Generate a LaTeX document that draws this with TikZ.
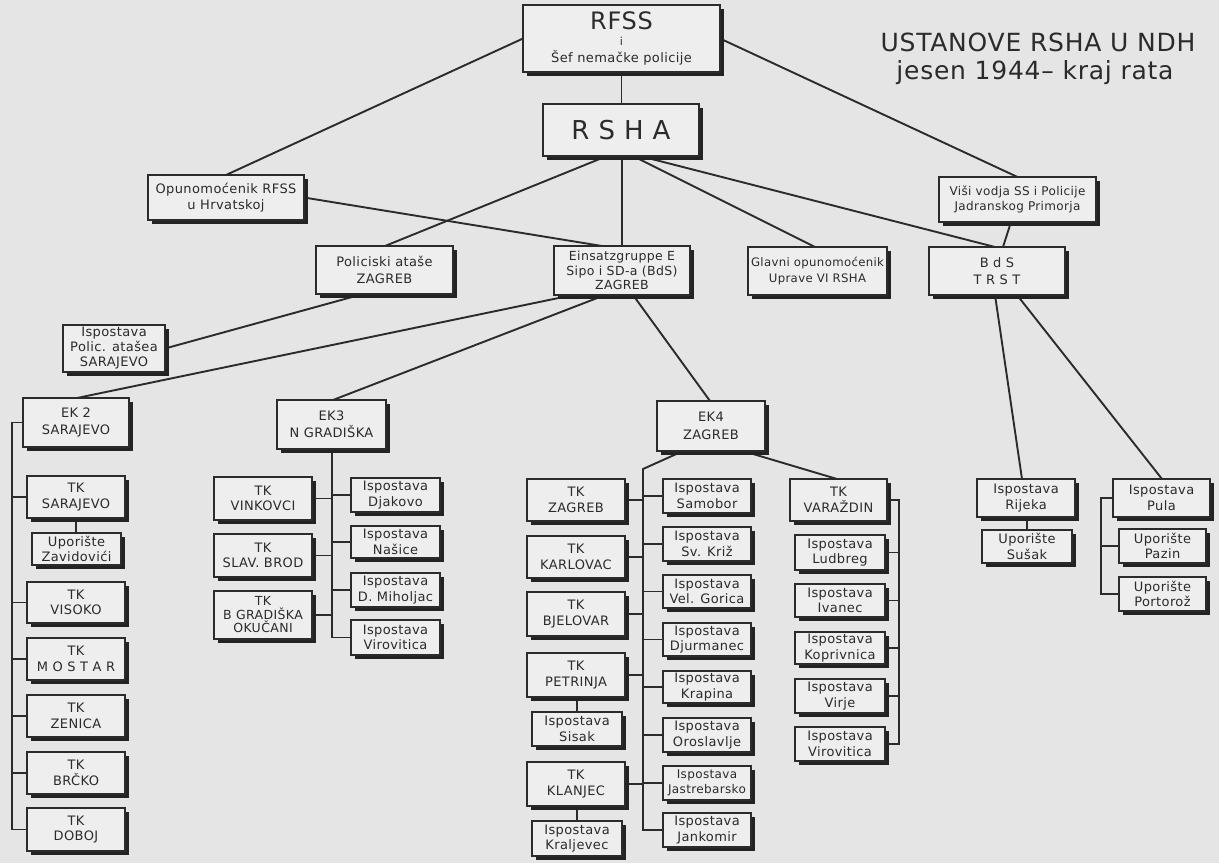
\documentclass[tikz,border=0pt]{standalone}
\usepackage{fontspec}
\setmainfont{DejaVu Sans}[LetterSpace=3]
\usetikzlibrary{shadows,calc}
\definecolor{paper}{gray}{0.90}
\definecolor{boxfill}{gray}{0.935}
\definecolor{ink}{gray}{0.17}
\pgfdeclarelayer{paperlayer}
\pgfdeclarelayer{linelayer}
\pgfsetlayers{paperlayer,linelayer,main}
\tikzset{
  box/.style={draw=ink, fill=boxfill, line width=1.4pt, align=center, inner sep=1pt, outer sep=0pt,
    font=\fontsize{13}{15.5}\selectfont, text=ink,
    general shadow={fill=ink!80!black, shadow xshift=4pt, shadow yshift=-4pt}},
  conn/.style={draw=ink, line width=1.9pt},
  titletext/.style={font=\fontsize{25}{28}\selectfont, text=ink, inner sep=0pt}
}
\newcommand\bx[7][]{\node[box,#1,minimum width={(#5-#3)*1pt},minimum height={(#6-#4)*1pt}] (#2) at ({(#3+#5)/2},{(#4+#6)/2}) {#7};}
\begin{document}
\begin{tikzpicture}[x=1pt,y=-1pt]
\begin{pgfonlayer}{paperlayer}
\fill[paper] (0,0) rectangle (1219,863);
\end{pgfonlayer}
\useasboundingbox (0,0) rectangle (1219,863);

% title
\node[titletext] (t1) at (1038,42) {USTANOVE RSHA U NDH};
\node[titletext] (t2) at (1035,73) {jesen 1944– kraj rata};

% top
\bx{rfss}{523}{5}{720}{72}{{\fontsize{24}{24}\selectfont RFSS}\\{\fontsize{11}{11}\selectfont i}\\[2pt]{\fontsize{13}{15}\selectfont Šef nemačke policije}}
\bx{rsha}{543}{104}{699}{156}{\fontsize{26}{26}\selectfont R S H A}
\bx{opun}{148}{175}{304}{220}{Opunomoćenik RFSS\\u Hrvatskoj}
\bx[font=\fontsize{12}{15}\selectfont]{visi}{939}{177}{1096}{222}{Viši vodja SS i Policije\\Jadranskog Primorja}
\bx{polic}{316}{246}{453}{294}{Policiski ataše\\[2pt]ZAGREB}
\bx[font=\fontsize{12.5}{14.5}\selectfont]{ein}{554}{246}{690}{295}{Einsatzgruppe E\\Sipo i SD-a (BdS)\\ZAGREB}
\bx[font=\fontsize{11.7}{16}\selectfont]{glavni}{748}{247}{887}{295}{Glavni opunomoćenik\\Uprave VI RSHA}
\bx{bds}{929}{247}{1065}{295}{B d S\\[2pt]T R S T}
\bx[font=\fontsize{13}{15}\selectfont]{ispsar}{63}{325}{165}{372}{Ispostava\\Polic. atašea\\SARAJEVO}
\bx{ek2}{23}{398}{129}{447}{EK 2\\[2pt]SARAJEVO}
\bx{ek3}{277}{400}{386}{449}{EK3\\[2pt]N GRADIŠKA}
\bx{ek4}{657}{401}{765}{451}{EK4\\[2pt]ZAGREB}

% EK2 column
\bx{tksar}{27}{476}{125}{518}{TK\\SARAJEVO}
\bx{zav}{32}{533}{121}{565}{Uporište\\Zavidovići}
\bx{tkvis}{27}{582}{125}{623}{TK\\VISOKO}
\bx{tkmos}{27}{638}{125}{680}{TK\\M O S T A R}
\bx{tkzen}{27}{695}{125}{737}{TK\\ZENICA}
\bx{tkbrc}{27}{752}{125}{794}{TK\\BRČKO}
\bx{tkdob}{27}{808}{125}{851}{TK\\DOBOJ}

% EK3 column
\bx{tkvin}{214}{477}{312}{520}{TK\\VINKOVCI}
\bx{tkslb}{214}{534}{312}{577}{TK\\SLAV. BROD}
\bx[font=\fontsize{12.5}{13.5}\selectfont]{tkbgr}{214}{591}{312}{639}{TK\\B GRADIŠKA\\OKUČANI}
\bx{djak}{351}{478}{440}{512}{Ispostava\\Djakovo}
\bx{nas}{351}{526}{440}{558}{Ispostava\\Našice}
\bx{dmih}{351}{573}{440}{607}{Ispostava\\D. Miholjac}
\bx{vir3}{351}{620}{440}{655}{Ispostava\\Virovitica}

% EK4 column
\bx{tkzag}{527}{479}{625}{521}{TK\\ZAGREB}
\bx{tkkar}{527}{536}{625}{578}{TK\\KARLOVAC}
\bx{tkbje}{527}{592}{625}{636}{TK\\BJELOVAR}
\bx{tkpet}{527}{653}{625}{697}{TK\\PETRINJA}
\bx{sisak}{532}{712}{622}{746}{Ispostava\\Sisak}
\bx{tkkla}{527}{762}{625}{806}{TK\\KLANJEC}
\bx{kralj}{532}{821}{622}{856}{Ispostava\\Kraljevec}
\bx{samobor}{663}{479}{751}{513}{Ispostava\\Samobor}
\bx{svkriz}{663}{527}{751}{561}{Ispostava\\Sv. Križ}
\bx{velgor}{663}{575}{751}{608}{Ispostava\\Vel. Gorica}
\bx{djur}{663}{623}{751}{656}{Ispostava\\Djurmanec}
\bx{krap}{663}{671}{751}{703}{Ispostava\\Krapina}
\bx{oros}{663}{718}{751}{752}{Ispostava\\Oroslavlje}
\bx[font=\fontsize{12}{15.5}\selectfont]{jastr}{663}{766}{751}{800}{Ispostava\\Jastrebarsko}
\bx{jank}{663}{813}{751}{847}{Ispostava\\Jankomir}

% Varazdin
\bx{tkvar}{790}{479}{887}{521}{TK\\VARAŽDIN}
\bx{ludb}{795}{535}{885}{570}{Ispostava\\Ludbreg}
\bx{ivan}{795}{584}{885}{617}{Ispostava\\Ivanec}
\bx{kopr}{795}{632}{885}{664}{Ispostava\\Koprivnica}
\bx{virje}{795}{679}{885}{713}{Ispostava\\Virje}
\bx{virov}{795}{727}{885}{761}{Ispostava\\Virovitica}

% Trst branch
\bx{rij}{977}{479}{1075}{517}{Ispostava\\Rijeka}
\bx{susak}{982}{530}{1072}{563}{Uporište\\Sušak}
\bx{pula}{1113}{479}{1210}{517}{Ispostava\\Pula}
\bx{pazin}{1119}{529}{1206}{563}{Uporište\\Pazin}
\bx{porto}{1119}{577}{1206}{611}{Uporište\\Portorož}

\begin{pgfonlayer}{linelayer}
\draw[conn] (rfss.south) -- (rsha.north -| rfss.south);
\draw[conn] (rfss.west) -- (opun.north);
\draw[conn] (rfss.east) -- (visi.north);
\draw[conn] (visi.south -| 1011,0) -- (bds.north -| 1003,0);
\draw[conn] (rsha.south -| 607,0) -- (polic.north -| 385,0);
\draw[conn] (rsha.south -| 622,0) -- (ein.north -| 622,0);
\draw[conn] (rsha.south -| 633,0) -- (glavni.north -| 815,0);
\draw[conn] (rsha.south -| 640,0) -- (bds.north -| 995,0);
\draw[conn] (opun.east) -- (ein.north -| 602,0);
\draw[conn] (polic.south -| 363,0) -- (ispsar.east);
\draw[conn] (ein.south -| 573,0) -- (ek2.north -| 77,0);
\draw[conn] (ein.south -| 605,0) -- (ek3.north -| 333,0);
\draw[conn] (ein.south -| 633,0) -- (ek4.north -| 710,0);
% EK2 tree
\draw[conn] (ek2.west) -- (ek2.west -| 12,0) |- (tkdob.west);
\foreach \n in {tksar,tkvis,tkmos,tkzen,tkbrc} \draw[conn] (\n.west) -- (\n.west -| 12,0);
\draw[conn] (tksar.south -| 76,0) -- (zav.north -| 76,0);
% EK3 tree
\draw[conn] (ek3.south -| 332,0) |- (vir3.west);
\foreach \n in {tkvin,tkslb,tkbgr} \draw[conn] (\n.east) -- (\n.east -| 332,0);
\foreach \n in {djak,nas,dmih} \draw[conn] (\n.west) -- (\n.west -| 332,0);
% EK4 tree
\coordinate (ek4bus) at (643,469);
\draw[conn] (ek4.south -| 683,0) -- (ek4bus) |- (jank.west);
\foreach \n in {tkzag,tkkar,tkbje,tkpet,tkkla} \draw[conn] (\n.east) -- (\n.east -| 643,0);
\foreach \n in {samobor,svkriz,velgor,djur,krap,oros,jastr} \draw[conn] (\n.west) -- (\n.west -| 643,0);
\draw[conn] (tkpet.south -| 577,0) -- (sisak.north -| 577,0);
\draw[conn] (tkkla.south -| 577,0) -- (kralj.north -| 577,0);
\draw[conn] (ek4.south -| 743,0) -- (tkvar.north -| 837,0);
\draw[conn] (tkvar.east) -- (tkvar.east -| 899,0) |- (virov.east);
\foreach \n in {ludb,ivan,kopr,virje} \draw[conn] (\n.east) -- (\n.east -| 899,0);
% Trst tree
\draw[conn] (bds.south -| 995,0) -- (rij.north -| 1022,0);
\draw[conn] (bds.south -| 1017,0) -- (pula.north -| 1162,0);
\draw[conn] (rij.south -| 1027,0) -- (susak.north -| 1027,0);
\draw[conn] (pula.west) -- (pula.west -| 1101,0) |- (porto.west);
\draw[conn] (pazin.west) -- (pazin.west -| 1101,0);
\end{pgfonlayer}
\end{tikzpicture}
\end{document}
